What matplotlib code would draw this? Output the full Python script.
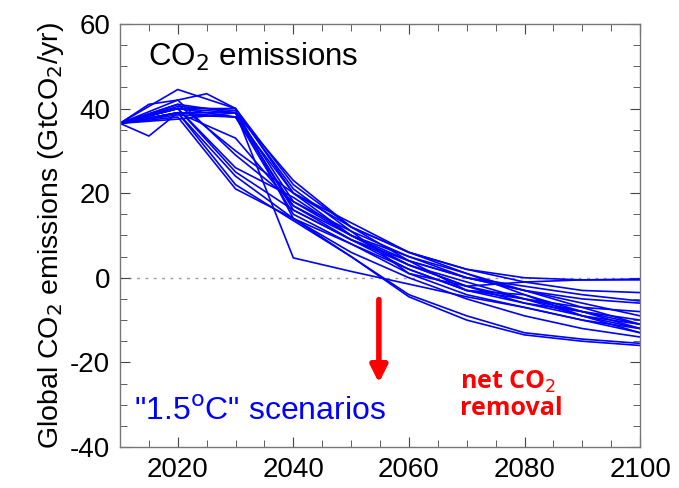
import matplotlib
matplotlib.use("Agg")
import matplotlib.pyplot as plt
from matplotlib.ticker import MultipleLocator

years = [2010, 2015, 2020, 2025, 2030, 2040, 2050, 2060, 2070, 2080, 2090, 2100]
N = None
scenarios = [
    [36.5, N, 44.5, N, 40.0, 22.0, 12.0, 6.0, 2.0, 0.0, -0.5, -0.3],
    [36.5, N, 42.0, 43.5, 40.0, 20.0, 10.0, 4.0, 0.0, -2.0, -4.0, -5.5],
    [36.5, 33.5, 39.0, N, 39.0, 16.0, 9.0, 3.0, -2.0, -6.0, -8.0, -10.0],
    [36.5, 41.0, 42.0, N, 29.0, 18.0, 11.0, 5.0, 0.0, -3.0, -6.0, -9.0],
    [36.5, N, 40.0, N, 40.0, 14.0, 8.0, 1.0, -4.0, -7.0, -10.0, -12.0],
    [36.5, N, 39.0, N, 38.0, 17.0, 9.0, 2.0, -3.0, -6.0, -9.0, -11.0],
    [36.5, N, 40.0, N, 26.0, 19.0, 10.0, 3.0, -1.0, -5.0, -9.0, -12.0],
    [36.5, N, 40.0, N, 39.0, 4.7, 1.5, -1.5, -4.5, -7.0, -10.0, -13.0],
    [36.5, N, 41.0, N, 30.0, 20.0, 12.0, 6.0, 2.0, -1.0, -3.0, -3.5],
    [36.5, N, 39.0, N, 24.0, 14.0, 6.0, 0.0, -5.0, -9.0, -12.0, -14.0],
    [36.5, N, 38.0, N, 21.0, 14.0, 5.0, -4.5, -10.0, -13.5, -15.0, -16.0],
    [36.5, N, 39.0, N, 22.0, 13.5, 5.0, -4.0, -9.0, -13.0, -14.5, -15.5],
    [36.5, N, 40.0, N, 38.0, 20.0, 13.0, 6.0, 1.0, -3.0, -7.0, -11.0],
    [36.5, N, 41.0, N, 39.0, 23.0, 12.0, 4.0, 0.0, -3.0, -5.0, -6.0],
    [36.5, N, 39.0, N, 33.0, 17.0, 10.0, 3.0, -2.0, -5.0, -8.0, -11.0],
    [36.5, N, 38.5, N, 38.0, 15.0, 8.0, 2.0, -3.0, -5.0, -7.0, -8.0],
    [36.5, N, 40.0, N, 25.0, 16.0, 9.0, 4.0, -3.0, -4.0, -9.0, -13.0],
    [36.5, N, 37.5, N, 39.0, 18.0, 10.0, 5.0, 1.0, -4.0, -8.0, -12.0],
    [36.5, N, 40.5, N, 39.5, 21.0, 11.0, 1.0, -2.0, -1.0, -0.5, -0.5],
]

xticks = [2020, 2040, 2060, 2080, 2100]
yticks = [-40, -20, 0, 20, 40, 60]

plt.rcParams['font.family'] = ['Liberation Sans', 'DejaVu Sans']
plt.rcParams['axes.unicode_minus'] = False
fig = plt.figure(figsize=(6.79, 4.88), dpi=100)
ax = fig.add_axes([0.1767, 0.084, 0.766, 0.867])

for s in scenarios:
    xs = [y for y, v in zip(years, s) if v is not None]
    vs = [v for v in s if v is not None]
    ax.plot(xs, vs, color='#0000ff', lw=1.2, solid_joinstyle='miter')

ax.axhline(0, color='#999999', lw=1.0, linestyle=(0, (2, 4)), zorder=0)

ax.set_xlim(2010, 2100)
ax.set_ylim(-40, 60)
ax.set_xticks(xticks)
ax.set_yticks(yticks)
ax.xaxis.set_minor_locator(MultipleLocator(5))
ax.yaxis.set_minor_locator(MultipleLocator(5))
ax.tick_params(which='both', direction='in', top=True, right=True, labelsize=20, color='#444444')
ax.tick_params(which='major', length=7, pad=7)
ax.tick_params(which='minor', length=5)
for sp in ax.spines.values():
    sp.set_color('#777777')
    sp.set_linewidth(1.0)

ax.set_ylabel('Global CO$_2$ emissions (GtCO$_2$/yr)', fontsize=20.5, labelpad=3)

ax.text(2014.8, 52.2, 'CO$_2$ emissions', fontsize=22.5, color='black', va='center', ha='left')
ax.text(2012.5, -31.7, '"1.5$^{\\mathrm{o}}$C" scenarios', fontsize=23, color='#0000ff', va='center', ha='left')
ax.text(2068.8, -27.7, 'net CO$_2$\nremoval', fontsize=18, color='#ff0000', fontweight='bold',
        va='center', ha='left', family=['Open Sans', 'DejaVu Sans'], linespacing=1.05)

ax.annotate('', xy=(2054.8, -25.5), xytext=(2054.8, -4.5),
            arrowprops=dict(arrowstyle='-|>,head_width=0.5,head_length=1.0', color='#ff0000', lw=4))

fig.savefig('out.png', dpi=100)
